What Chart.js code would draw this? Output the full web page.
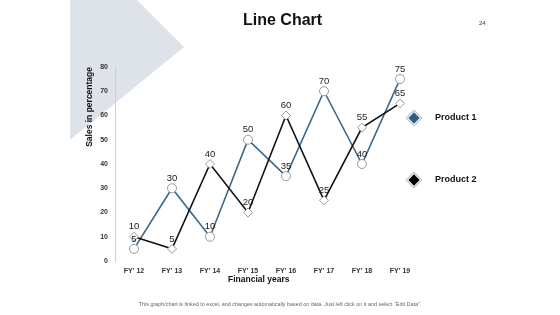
<!DOCTYPE html>
<html>
<head>
<meta charset="utf-8">
<script src="https://cdn.jsdelivr.net/npm/chart.js@4"></script>
<style>
  html, body { margin:0; padding:0; background:#fff; }
  #wrap { position:relative; width:560px; height:315px; overflow:hidden; font-family:"Liberation Sans", Arial, sans-serif; }
  #shape { position:absolute; left:0; top:0; width:560px; height:315px; background:#DEE2E9;
           clip-path: polygon(70px 0px, 137px 0px, 184px 47px, 70px 140px); }
  #c { position:absolute; left:0; top:0; }
  .txt { position:absolute; white-space:nowrap; color:#111; }
  #title { left:243px; top:11px; font-size:16px; font-weight:bold; }
  #pnum { left:479px; top:20px; font-size:6px; color:#333; }
  #footer { left:0; width:560px; text-align:center; top:301px; font-size:5.4px; color:#666; }
  #xtitle { left:228px; top:274px; font-size:8.5px; font-weight:bold; }
  .leg { position:absolute; font-size:9px; font-weight:bold; color:#111; }
  .dia { position:absolute; width:8px; height:8px; transform:rotate(45deg); box-shadow:0 0 0 1px #fff, 0 0 0 2px #bbb; }
</style>
</head>
<body>
<div id="wrap">
  <div id="shape"></div>
  <canvas id="c" width="560" height="315"></canvas>
  <div class="txt" id="title">Line Chart</div>
  <div class="txt" id="pnum">24</div>
  <div class="txt" id="xtitle">Financial years</div>
  <div class="txt" id="footer">This graph/chart is linked to excel, and changes automatically based on data. Just left click on it and select “Edit Data”.</div>
  <div id="legend"></div>
</div>
<script>
const categories = ["FY' 12", "FY' 13", "FY' 14", "FY' 15", "FY' 16", "FY' 17", "FY' 18", "FY' 19"];
const seriesNames = ["Product 1", "Product 2"];
const product1 = [5, 30, 10, 50, 35, 70, 40, 75];
const product2 = [10, 5, 40, 20, 60, 25, 55, 65];
const yTicks = [0, 10, 20, 30, 40, 50, 60, 70, 80];

const blue = '#3A678B';
const legendColors = ['#2E5E86', '#000000'];

// HTML legend
const legendEl = document.getElementById('legend');
seriesNames.forEach((name, i) => {
  const y = i === 0 ? 118 : 180;
  const d = document.createElement('div');
  d.className = 'dia';
  d.style.left = (414 - 4) + 'px';
  d.style.top = (y - 4) + 'px';
  d.style.background = legendColors[i];
  legendEl.appendChild(d);
  const t = document.createElement('div');
  t.className = 'leg';
  t.textContent = name;
  t.style.left = '435px';
  t.style.top = (y - 6) + 'px';
  legendEl.appendChild(t);
});

const labelPlugin = {
  id: 'pointLabels',
  afterDatasetsDraw(chart) {
    const ctx = chart.ctx;
    ctx.save();
    ctx.font = '9.5px "Liberation Sans", Arial, sans-serif';
    ctx.fillStyle = '#1a1a1a';
    ctx.textAlign = 'center';
    ctx.textBaseline = 'middle';
    chart.data.datasets.forEach((ds, di) => {
      const meta = chart.getDatasetMeta(di);
      meta.data.forEach((pt, i) => {
        ctx.fillText(String(ds.data[i]), pt.x, pt.y - 10);
      });
    });
    ctx.restore();
  }
};

new Chart(document.getElementById('c'), {
  type: 'line',
  data: {
    labels: categories,
    datasets: [
      {
        label: seriesNames[0],
        data: product1,
        borderColor: blue,
        borderWidth: 1.6,
        pointStyle: 'circle',
        pointRadius: 4.5,
        pointBackgroundColor: '#fff',
        pointBorderColor: '#9a9a9a',
        pointBorderWidth: 1,
        tension: 0,
        clip: false,
        order: 1
      },
      {
        label: seriesNames[1],
        data: product2,
        borderColor: '#111',
        borderWidth: 1.6,
        pointStyle: 'rectRot',
        pointRadius: 4.5,
        pointBackgroundColor: '#fff',
        pointBorderColor: '#9a9a9a',
        pointBorderWidth: 1,
        tension: 0,
        clip: false,
        order: 0
      }
    ]
  },
  options: {
    responsive: false,
    animation: false,
    layout: { padding: { left: 80, right: 141, top: 67, bottom: 31 } },
    plugins: { legend: { display: false }, tooltip: { enabled: false } },
    scales: {
      x: {
        offset: true,
        grid: { display: false, drawTicks: false },
        border: { display: false },
        ticks: { padding: 6, color: '#333', font: { family: '"Liberation Sans", Arial, sans-serif', size: 7, weight: 'bold' } },
        afterFit(scale) { scale.height = 23; }
      },
      y: {
        min: 0, max: 80,
        afterBuildTicks(scale) { scale.ticks = yTicks.map(v => ({ value: v })); },
        grid: { display: false, drawTicks: false },
        border: { display: true, color: '#d0d0d0', width: 1 },
        ticks: { padding: 7, color: '#333', font: { family: '"Liberation Sans", Arial, sans-serif', size: 7, weight: 'bold' } },
        title: { display: true, text: 'Sales in percentage', align: 'end', color: '#111', padding: { top: 5, bottom: 4 },
                 font: { family: '"Liberation Sans", Arial, sans-serif', size: 8.5, weight: 'bold' } },
        afterFit(scale) { scale.width = 35; }
      }
    }
  },
  plugins: [labelPlugin]
});
</script>
</body>
</html>
